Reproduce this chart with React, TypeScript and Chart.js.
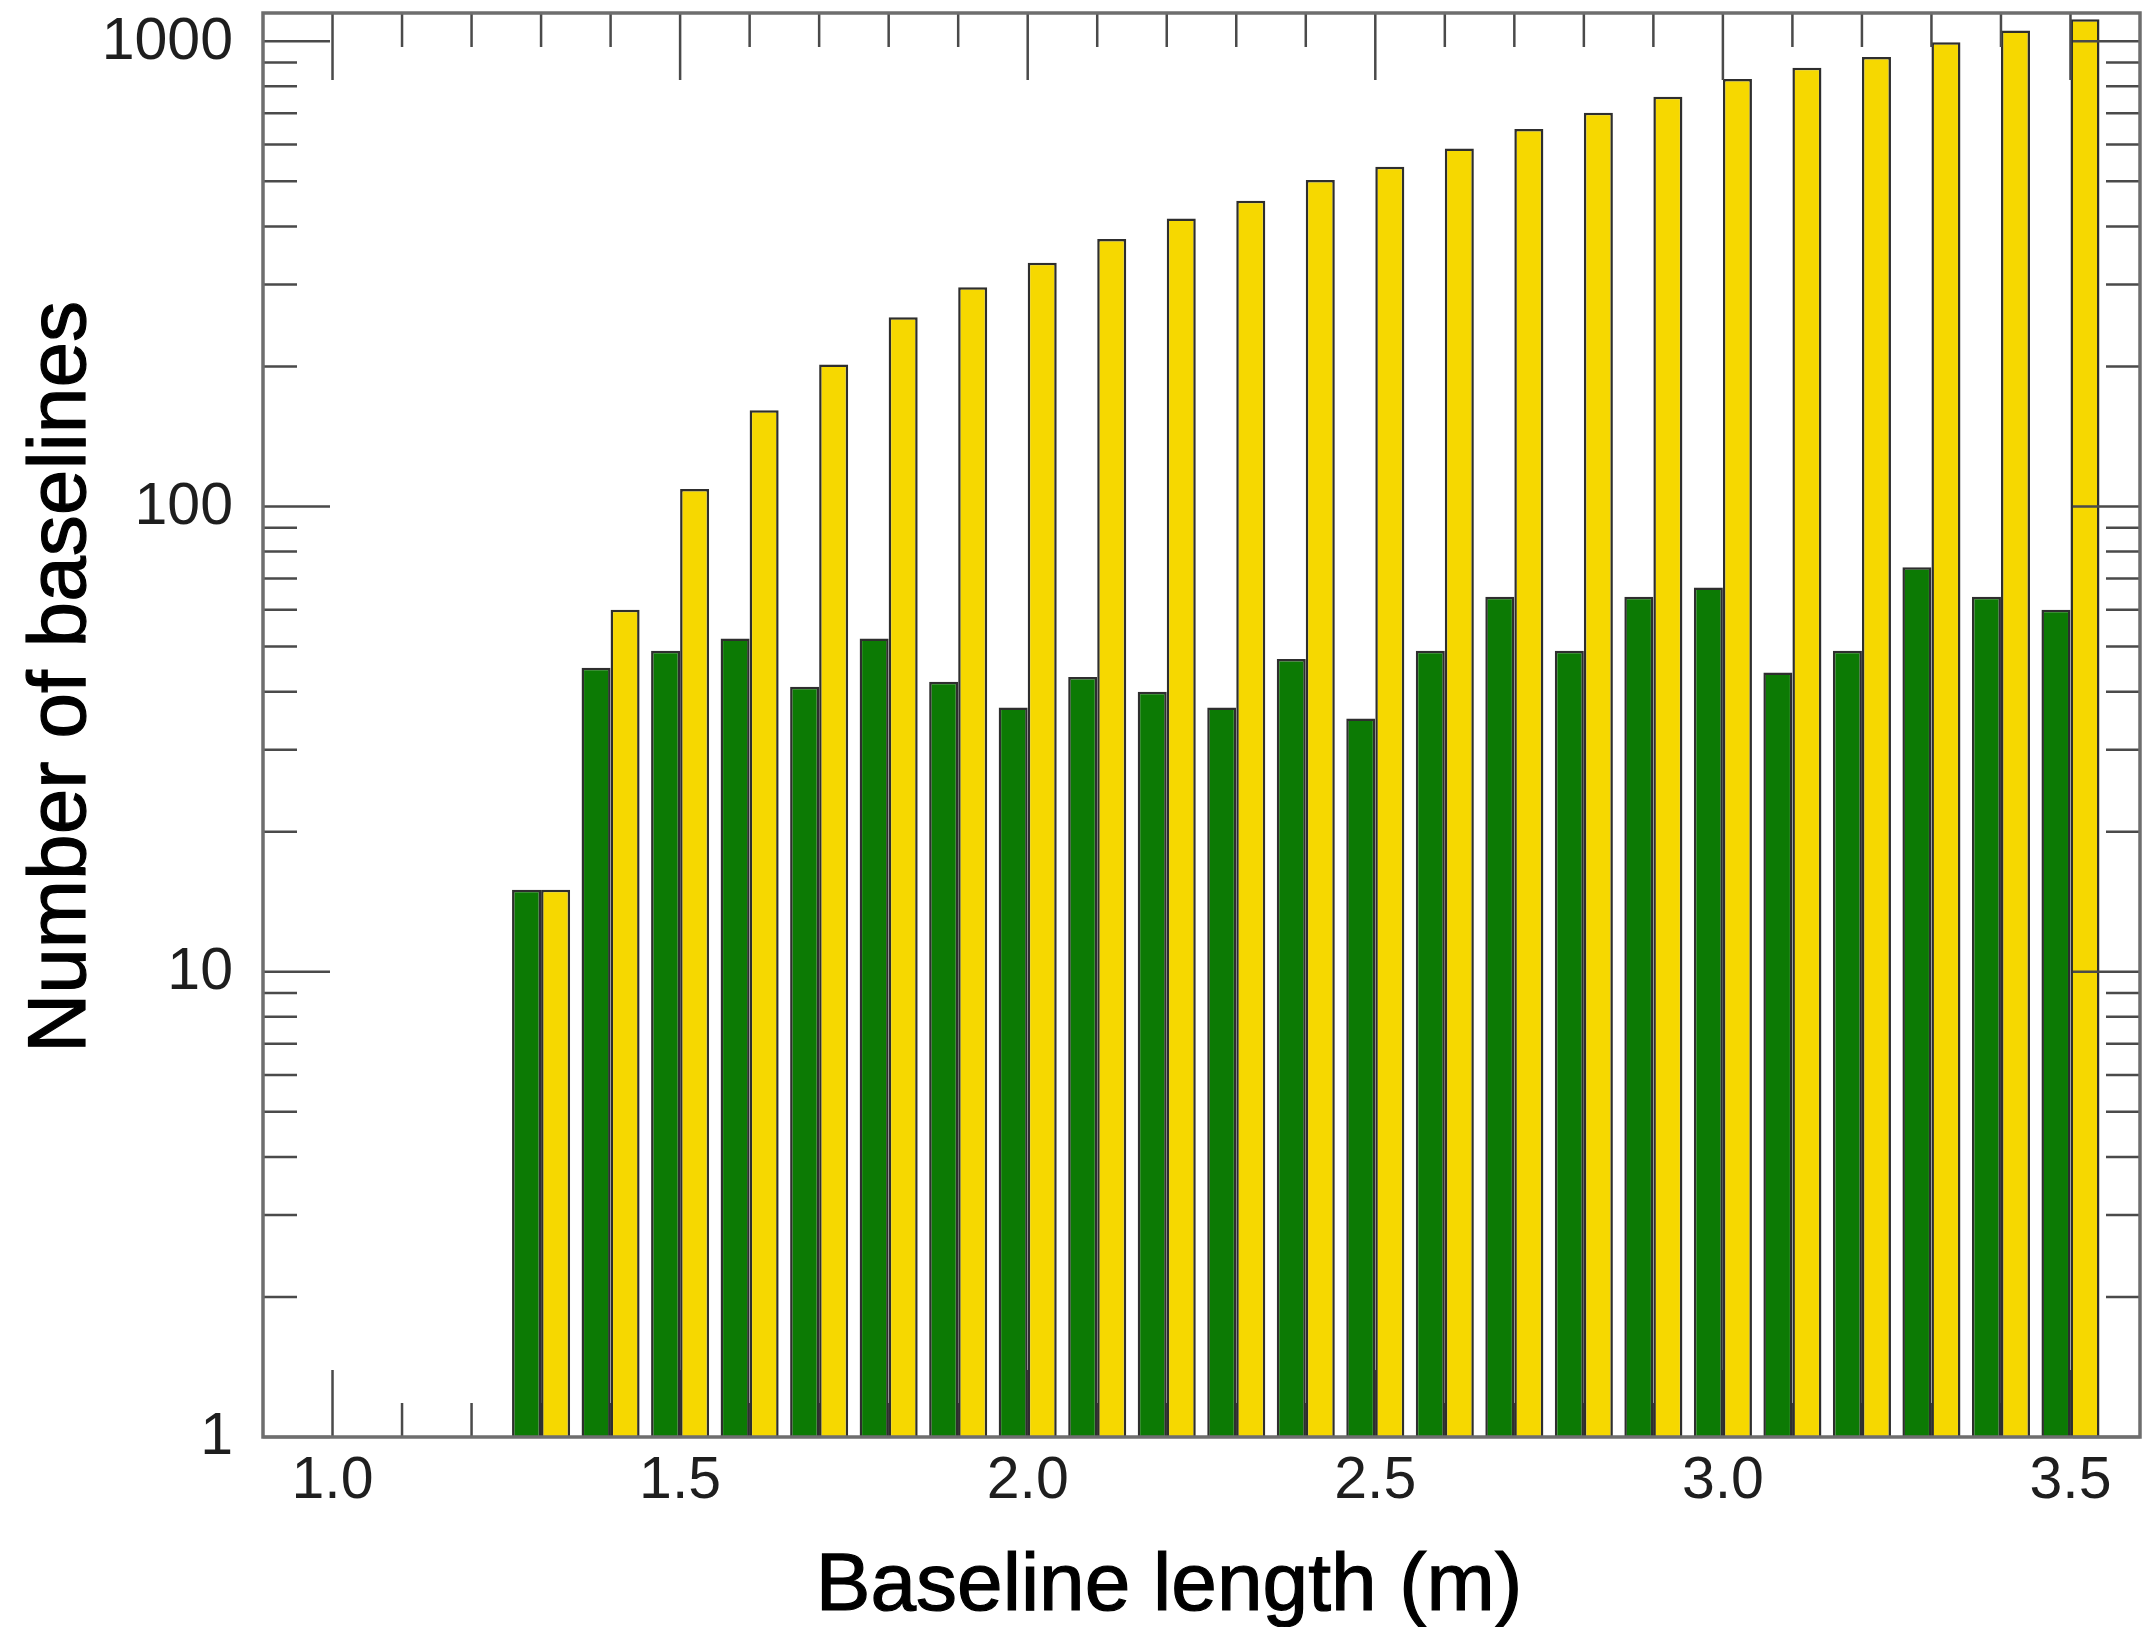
import React, { useEffect, useRef } from "react";
import { Chart, registerables } from "chart.js";

Chart.register(...registerables);

// Bin centres (baseline length, m)
const binCenters = [1.3, 1.4, 1.5, 1.6, 1.7, 1.8, 1.9, 2.0, 2.1, 2.2, 2.3, 2.4, 2.5, 2.6, 2.7, 2.8, 2.9, 3.0, 3.1, 3.2, 3.3, 3.4, 3.5];
// Green series
const greenCounts = [15, 45, 49, 52, 41, 52, 42, 37, 43, 40, 37, 47, 35, 49, 64, 49, 64, 67, 44, 49, 74, 64, 60];
// Yellow series
const yellowCounts = [15, 60, 109, 161, 202, 255, 296, 334, 376, 416, 454, 503, 537, 588, 648, 702, 760, 830, 877, 925, 995, 1055, 1115];

// Axis ticks
const xTickValues = [1.0, 1.5, 2.0, 2.5, 3.0, 3.5];
const xTickLabels = ["1.0", "1.5", "2.0", "2.5", "3.0", "3.5"];
const xMinorValues = [1.0, 1.1, 1.2, 1.3, 1.4, 1.5, 1.6, 1.7, 1.8, 1.9, 2.0, 2.1, 2.2, 2.3, 2.4, 2.5, 2.6, 2.7, 2.8, 2.9, 3.0, 3.1, 3.2, 3.3, 3.4, 3.5];
const yTickValues = [1, 10, 100, 1000];
const yTickLabels = ["1", "10", "100", "1000"];
const yMinorValues = [2, 3, 4, 5, 6, 7, 8, 9, 20, 30, 40, 50, 60, 70, 80, 90, 200, 300, 400, 500, 600, 700, 800, 900];

const X_MIN = 0.9;
const X_MAX = 3.6;
const Y_MIN = 1;
const Y_MAX = 1150;

const GREEN = "#0c7a04";
const YELLOW = "#f6d800";
const BAR_BORDER = "#2e2e2e";
const TICK_COLOR = "#4a4a4a";
const FRAME_COLOR = "#6e6e6e";
const FONT = "'Liberation Sans', Arial, Helvetica, sans-serif";

const MAJOR_LEN = 67;
const MINOR_LEN = 34;

const isMajorX = (v: number) => Math.round(v * 10) % 5 === 0;

const axesPlugin = {
  id: "idlAxes",
  beforeDatasetsDraw(chart: any) {
    const { ctx, chartArea: a, scales } = chart;
    const x = scales.x;
    ctx.save();
    ctx.strokeStyle = TICK_COLOR;
    ctx.lineWidth = 2.5;
    ctx.beginPath();
    for (const v of xMinorValues) {
      const px = x.getPixelForValue(v);
      const len = isMajorX(v) ? MAJOR_LEN : MINOR_LEN;
      ctx.moveTo(px, a.bottom);
      ctx.lineTo(px, a.bottom - len);
    }
    ctx.stroke();
    ctx.restore();
  },
  afterDatasetsDraw(chart: any) {
    const { ctx, chartArea: a, scales } = chart;
    const x = scales.x;
    const y = scales.y;
    ctx.save();
    ctx.strokeStyle = TICK_COLOR;
    ctx.lineWidth = 2.5;
    ctx.beginPath();
    // top ticks
    for (const v of xMinorValues) {
      const px = x.getPixelForValue(v);
      const len = isMajorX(v) ? MAJOR_LEN : MINOR_LEN;
      ctx.moveTo(px, a.top);
      ctx.lineTo(px, a.top + len);
    }
    // left & right ticks
    for (const v of yTickValues) {
      const py = y.getPixelForValue(v);
      ctx.moveTo(a.left, py);
      ctx.lineTo(a.left + MAJOR_LEN, py);
      ctx.moveTo(a.right, py);
      ctx.lineTo(a.right - MAJOR_LEN, py);
    }
    for (const v of yMinorValues) {
      const py = y.getPixelForValue(v);
      ctx.moveTo(a.left, py);
      ctx.lineTo(a.left + MINOR_LEN, py);
      ctx.moveTo(a.right, py);
      ctx.lineTo(a.right - MINOR_LEN, py);
    }
    ctx.stroke();

    // frame
    ctx.strokeStyle = FRAME_COLOR;
    ctx.lineWidth = 3.5;
    ctx.strokeRect(a.left, a.top, a.right - a.left, a.bottom - a.top);

    // tick labels
    ctx.fillStyle = "#1e1e1e";
    ctx.font = `59px ${FONT}`;
    ctx.textAlign = "center";
    ctx.textBaseline = "alphabetic";
    xTickValues.forEach((v, i) => {
      ctx.fillText(xTickLabels[i], x.getPixelForValue(v), a.bottom + 61);
    });
    ctx.textAlign = "right";
    ctx.textBaseline = "middle";
    yTickValues.forEach((v, i) => {
      ctx.fillText(yTickLabels[i], a.left - 30, y.getPixelForValue(v) + 1);
    });

    // axis titles
    ctx.fillStyle = "#000000";
    ctx.strokeStyle = "#000000";
    ctx.lineWidth = 1.2;
    ctx.font = `82px ${FONT}`;
    ctx.textAlign = "center";
    ctx.textBaseline = "alphabetic";
    ctx.fillText("Baseline length (m)", 1169, 1610);
    ctx.strokeText("Baseline length (m)", 1169, 1610);

    ctx.save();
    ctx.translate(85, 677);
    ctx.rotate(-Math.PI / 2);
    ctx.fillText("Number of baselines", 0, 0);
    ctx.strokeText("Number of baselines", 0, 0);
    ctx.restore();

    ctx.restore();
  },
};

export default function App() {
  const canvasRef = useRef<HTMLCanvasElement | null>(null);

  useEffect(() => {
    const canvas = canvasRef.current;
    if (!canvas) return;
    const chart = new Chart(canvas, {
      type: "bar",
      data: {
        datasets: [
          {
            label: "green",
            data: binCenters.map((b, i) => ({ x: b, y: greenCounts[i] })),
            backgroundColor: GREEN,
            borderColor: BAR_BORDER,
            borderWidth: 2.5,
            borderSkipped: "start",
            categoryPercentage: 0.835,
            barPercentage: 1.0,
          },
          {
            label: "yellow",
            data: binCenters.map((b, i) => ({ x: b, y: yellowCounts[i] })),
            backgroundColor: YELLOW,
            borderColor: BAR_BORDER,
            borderWidth: 2.5,
            borderSkipped: "start",
            categoryPercentage: 0.835,
            barPercentage: 1.0,
          },
        ],
      } as any,
      options: {
        animation: false,
        responsive: false,
        maintainAspectRatio: false,
        devicePixelRatio: 1,
        layout: { padding: { left: 263, top: 13, right: 12, bottom: 190 } },
        plugins: {
          legend: { display: false },
          tooltip: { enabled: false },
        },
        scales: {
          x: {
            type: "linear",
            min: X_MIN,
            max: X_MAX,
            offset: false,
            bounds: "data",
            display: false,
            grid: { offset: false },
            ticks: { stepSize: 0.1 },
          },
          y: {
            type: "logarithmic",
            min: Y_MIN,
            max: Y_MAX,
            bounds: "data",
            display: false,
          },
        },
      } as any,
      plugins: [axesPlugin],
    });
    return () => chart.destroy();
  }, []);

  return (
    <div style={{ position: "absolute", left: 0, top: 0, width: 2152, height: 1627, background: "#ffffff" }}>
      <canvas ref={canvasRef} width={2152} height={1627} style={{ width: 2152, height: 1627, display: "block" }} />
    </div>
  );
}
